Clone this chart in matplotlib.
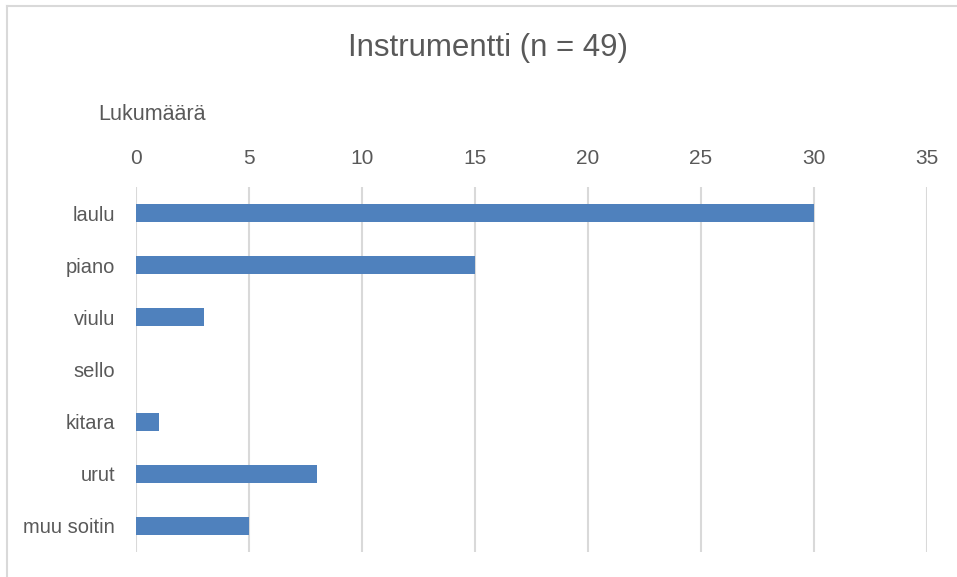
import matplotlib
matplotlib.use("Agg")
import matplotlib.pyplot as plt
from matplotlib import font_manager

categories = ["laulu", "piano", "viulu", "sello", "kitara", "urut", "muu soitin"]
values = [30, 15, 3, 0, 1, 8, 5]
xticks = [0, 5, 10, 15, 20, 25, 30, 35]
title = "Instrumentti (n = 49)"
xlabel = "Lukumäärä"

names = {f.name for f in font_manager.fontManager.ttflist}
fam = ["Liberation Sans Narrow"] if "Liberation Sans Narrow" in names else ["Liberation Sans"]
plt.rcParams["font.family"] = fam + ["DejaVu Sans"]

W, H = 957, 577
fig = plt.figure(figsize=(W / 100, H / 100), dpi=100)
ax = fig.add_axes([136 / W, 1 - 552 / H, (927 - 136) / W, (552 - 187) / H])

txt = "#595959"
grid = "#d9d9d9"
y = list(range(len(categories)))
ax.barh(y, values, height=0.35, color="#4f81bd", linewidth=0, zorder=3)
ax.set_ylim(len(categories) - 0.5, -0.5)
ax.set_yticks(y)
ax.set_yticklabels(categories)
ax.set_xlim(0, 35)
ax.set_xticks(xticks)
ax.xaxis.tick_top()
ax.grid(axis="x", color=grid, linewidth=1.5, zorder=0)
for s in ax.spines.values():
    s.set_visible(False)
ax.tick_params(axis="both", length=0, colors=txt)
ax.tick_params(axis="x", pad=14, labelsize=15)
ax.tick_params(axis="y", pad=15, labelsize=14.5)

fig.text(488 / W, 1 - 48 / H, title, ha="center", va="center", fontsize=22.5, color=txt)
fig.text(98 / W, 1 - 114 / H, xlabel, ha="left", va="center", fontsize=15.5, color=txt)

# outer chart border (top and left visible)
fig.add_artist(plt.Line2D([7 / W, 1], [1 - 6 / H, 1 - 6 / H], transform=fig.transFigure, color=grid, linewidth=1.5))
fig.add_artist(plt.Line2D([7 / W, 7 / W], [0, 1 - 6 / H], transform=fig.transFigure, color=grid, linewidth=1.5))

fig.savefig("out.png", dpi=100, facecolor="white")
